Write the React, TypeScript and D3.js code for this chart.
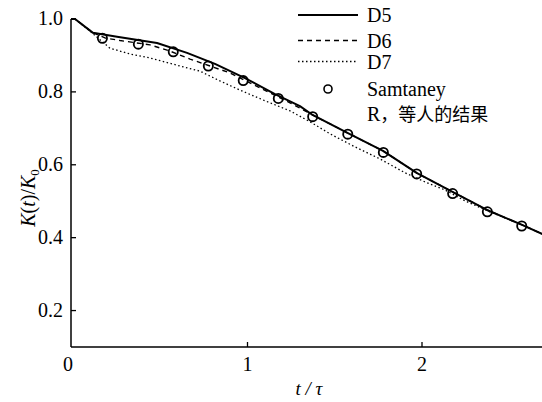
import React from "react";
import * as d3 from "d3";

// ---- data ----
const xTicks = [0, 1, 2];
const yTicks = [0.2, 0.4, 0.6, 0.8, 1.0];
const yTickLabels = ["0.2", "0.4", "0.6", "0.8", "1.0"];

const d5T = [0, 0.023, 0.126, 0.264, 0.493, 0.665, 0.825, 0.997, 1.169, 1.312, 1.387, 1.587, 1.788, 1.983, 2.189, 2.384, 2.585, 2.72];
const d5K = [1.0, 1.0, 0.962, 0.951, 0.934, 0.907, 0.877, 0.838, 0.794, 0.761, 0.736, 0.687, 0.638, 0.577, 0.525, 0.476, 0.435, 0.406];

const d6T = [0, 0.023, 0.126, 0.195, 0.281, 0.453, 0.567, 0.682, 0.797, 0.911, 1.083, 1.255, 1.387, 1.587, 1.788, 1.983, 2.189, 2.384, 2.585, 2.72];
const d6K = [1.0, 1.0, 0.962, 0.948, 0.941, 0.929, 0.912, 0.890, 0.871, 0.852, 0.811, 0.770, 0.736, 0.687, 0.638, 0.577, 0.525, 0.476, 0.435, 0.406];

const d7T = [0, 0.023, 0.109, 0.166, 0.223, 0.338, 0.453, 0.625, 0.739, 0.854, 0.968, 1.100, 1.255, 1.370, 1.484, 1.628, 1.771, 1.914, 2.029, 2.143, 2.258, 2.40, 2.585, 2.72];
const d7K = [1.0, 1.0, 0.967, 0.943, 0.920, 0.904, 0.893, 0.871, 0.857, 0.830, 0.805, 0.778, 0.748, 0.718, 0.685, 0.649, 0.616, 0.578, 0.553, 0.531, 0.501, 0.471, 0.435, 0.406];

const samT = [0.18, 0.386, 0.586, 0.787, 0.987, 1.188, 1.385, 1.586, 1.79, 1.981, 2.187, 2.386, 2.583];
const samK = [0.947, 0.931, 0.91, 0.871, 0.831, 0.782, 0.732, 0.684, 0.634, 0.575, 0.521, 0.471, 0.432];

const legendNames = ["D5", "D6", "D7"];

const W = 542;
const H = 402;
const serif = '"Times New Roman", "Liberation Serif", "DejaVu Serif", serif';
const cjk = '"Noto Sans CJK SC", sans-serif';

const txt = (size: number, italic = false): React.CSSProperties => ({
  fontFamily: serif,
  fontSize: size,
  fontStyle: italic ? "italic" : "normal",
});

export default function App() {
  const x = d3.scaleLinear().domain([0, 2]).range([71, 420]);
  const y = d3.scaleLinear().domain([0.1, 1.0]).range([347, 19]);

  const line = d3
    .line<[number, number]>()
    .x((d) => x(d[0]))
    .y((d) => y(d[1]))
    .curve(d3.curveLinear);

  const zip = (a: number[], b: number[]) => a.map((v, i) => [v, b[i]] as [number, number]);

  const series = [
    { pts: zip(d5T, d5K), dash: null as string | null, w: 2 },
    { pts: zip(d6T, d6K), dash: "5 4", w: 1.4 },
    { pts: zip(d7T, d7K), dash: "1.5 2.5", w: 1.3 },
  ];

  const x0 = x(0);
  const yBase = y(0.1);

  return (
    <svg
      width={W}
      height={H}
      style={{ position: "absolute", left: 0, top: 0, background: "#fff", fontFamily: serif }}
    >
      <defs>
        <clipPath id="plot">
          <rect x={x0} y={0} width={W - x0} height={yBase} />
        </clipPath>
      </defs>
      <rect x={0} y={0} width={W} height={H} fill="#fff" />

      {/* curves */}
      <g clipPath="url(#plot)">
        {series.map((s, i) => (
          <path
            key={i}
            d={line(s.pts) || ""}
            fill="none"
            stroke="#000"
            strokeWidth={s.w}
            strokeLinejoin="round"
            strokeDasharray={s.dash || undefined}
          />
        ))}
      </g>

      {/* Samtaney points */}
      {samT.map((t, i) => (
        <circle key={i} cx={x(t)} cy={y(samK[i])} r={4.6} fill="none" stroke="#000" strokeWidth={1.8} />
      ))}

      {/* axes */}
      <line x1={x0} y1={y(1.0)} x2={x0} y2={yBase} stroke="#000" strokeWidth={1.5} />
      <line x1={x0} y1={yBase} x2={W} y2={yBase} stroke="#000" strokeWidth={1.5} />

      {yTicks.map((v, i) => (
        <g key={v}>
          <line x1={x0} x2={x0 + 5} y1={y(v)} y2={y(v)} stroke="#000" strokeWidth={1.3} />
          <text x={x0 - 8} y={y(v) + 6} textAnchor="end" style={txt(20)} fill="#000">
            {yTickLabels[i]}
          </text>
        </g>
      ))}

      {xTicks.map((v) => (
        <g key={v}>
          {v !== 0 && (
            <line x1={x(v) + 2} x2={x(v) + 2} y1={yBase} y2={yBase - 5} stroke="#000" strokeWidth={1.3} />
          )}
          <text
            x={v === 0 ? x(v) - 3 : x(v) + 2}
            y={yBase + 24}
            textAnchor="middle"
            style={txt(20)}
            fill="#000"
          >
            {v}
          </text>
        </g>
      ))}

      {/* axis titles */}
      <text x={309} y={395} textAnchor="middle" style={txt(19, true)} fill="#000">
        t / τ
      </text>
      <text transform="translate(35,198) rotate(-90)" textAnchor="middle" style={txt(20)} fill="#000">
        <tspan fontStyle="italic">K</tspan>
        <tspan>(</tspan>
        <tspan fontStyle="italic">t</tspan>
        <tspan>)/</tspan>
        <tspan fontStyle="italic">K</tspan>
        <tspan fontSize={13} dy={4}>0</tspan>
      </text>

      {/* legend */}
      {legendNames.map((n, i) => {
        const ly = [15, 40.5, 61.5][i];
        return (
          <g key={n}>
            <line
              x1={298}
              x2={358}
              y1={ly}
              y2={ly}
              stroke="#000"
              strokeWidth={series[i].w}
              strokeDasharray={series[i].dash || undefined}
            />
            <text x={367} y={ly + 7} style={txt(20)} fill="#000">
              {n}
            </text>
          </g>
        );
      })}
      <circle cx={328} cy={89} r={4} fill="none" stroke="#000" strokeWidth={1.6} />
      <text x={367} y={96} style={txt(20)} fill="#000">
        Samtaney
      </text>
      <text x={367} y={121} style={txt(20)} fill="#000">
        R
        <tspan style={{ fontFamily: cjk, fontSize: 18 }}>，等人的结果</tspan>
      </text>
    </svg>
  );
}
